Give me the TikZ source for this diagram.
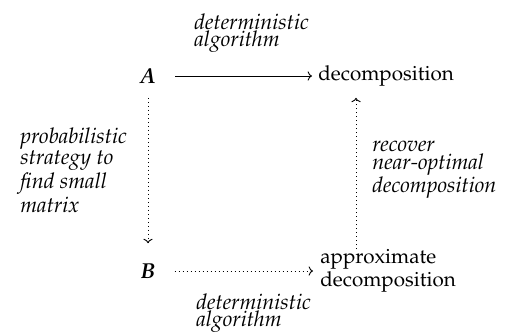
\documentclass[tikz,border=0pt]{standalone}
\usepackage[T1]{fontenc}
\usepackage{mathpazo}
\usetikzlibrary{arrows.meta,positioning}
\tikzset{
  obj/.style={inner sep=0pt, align=left, font=\fontsize{10.3}{9}\selectfont},
  sym/.style={inner sep=0pt, font=\fontsize{10.8}{12}\selectfont},
  lbl/.style={inner sep=0pt, align=left, font=\itshape\fontsize{10.8}{0}\selectfont},
  arr/.style={-{To[length=2.2pt,width=4.6pt]}, line width=0.45pt},
  dotarr/.style={arr, dash pattern=on 0.45pt off 1.55pt},
}
\begin{document}
\begin{tikzpicture}[x=0.5pt, y=-0.5pt]
  \useasboundingbox (0,0) rectangle (523,332);
  % objects
  \node[sym] (A) at (148,76) {\textbf{\textit{A}}};
  \node[obj, anchor=west] (dec) at (318,76) {decomposition};
  \node[sym] (B) at (148,271) {\textbf{\textit{B}}};
  \node[obj, anchor=west] (adec) at (320,271) {approximate\\decomposition};
  % labels
  \node[lbl, anchor=north west] (topl) at (194,13) {deterministic\\algorithm};
  \node[lbl, anchor=north west] (botl) at (196,293) {deterministic\\algorithm};
  \node[lbl, anchor=north west] (leftl) at (20,127) {probabilistic\\strategy to\\find small\\matrix};
  \node[lbl, anchor=north west] (rightl) at (372,140) {recover\\near-optimal\\decomposition};
  % arrows
  \draw[arr, shorten <=9.5pt, shorten >=3pt] (A) -- (dec);
  \draw[dotarr, shorten <=7pt, shorten >=10pt] (A) -- (B);
  \draw[dotarr, shorten <=9.5pt, shorten >=3.5pt] (B) -- (B -| adec.west);
  \coordinate (up) at ([xshift=18pt]adec.north west);
  \draw[dotarr, shorten <=0pt, shorten >=5.5pt] (up) -- (up |- dec.south);
\end{tikzpicture}
\end{document}
